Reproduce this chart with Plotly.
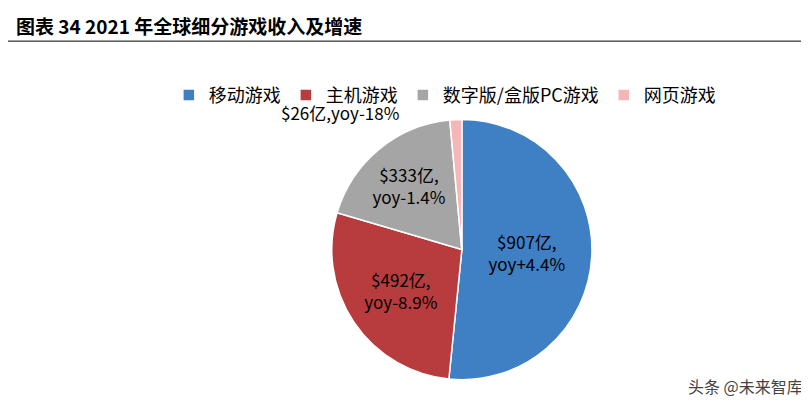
import plotly.graph_objects as go

categories = ["移动游戏", "主机游戏", "数字版/盒版PC游戏", "网页游戏"]
revenue = [907, 492, 333, 26]
yoy = ["+4.4%", "-8.9%", "-1.4%", "-18%"]
colors = ["#3F7FC4", "#B83B3E", "#A5A5A5", "#F4B6B6"]

texts = [f"${v}亿,<br>yoy{g}" for v, g in zip(revenue, yoy)]
texts[3] = ""  # small slice labelled by annotation above it

fig = go.Figure(go.Pie(
    labels=categories, values=revenue, text=texts,
    textinfo="text", sort=False, direction="clockwise", rotation=0,
    marker=dict(colors=colors, line=dict(color="white", width=1.5)),
    textposition="inside",
    insidetextorientation="horizontal",
    textfont=dict(size=17, color="black"),
    showlegend=True,
    domain=dict(x=[0.40, 0.722], y=[0.08, 0.724]),
))

fig.update_layout(
    width=809, height=404, margin=dict(l=0, r=0, t=0, b=0),
    paper_bgcolor="white", font=dict(family="Noto Sans CJK SC", color="black"),
    legend=dict(orientation="h", x=0.54, xanchor="center", y=0.83, yanchor="top",
                font=dict(size=18), itemwidth=30),
    annotations=[
        dict(text="<b>图表 34 2021 年全球细分游戏收入及增速</b>", x=0.008, y=0.995,
             xref="paper", yref="paper", xanchor="left", yanchor="top",
             showarrow=False, font=dict(size=19)),
        dict(text=f"${revenue[3]}亿,yoy{yoy[3]}", x=0.41, y=0.705,
             xref="paper", yref="paper", xanchor="center", yanchor="bottom",
             showarrow=False, font=dict(size=17)),
        dict(text="头条 @未来智库", x=0.985, y=0.03, xref="paper", yref="paper",
             xanchor="right", yanchor="bottom", showarrow=False,
             font=dict(size=16, color="#444")),
    ],
    shapes=[dict(type="line", xref="paper", yref="paper", x0=0, x1=1,
                 y0=0.918, y1=0.918, line=dict(color="black", width=1))],
)

fig.write_html("out.html")
